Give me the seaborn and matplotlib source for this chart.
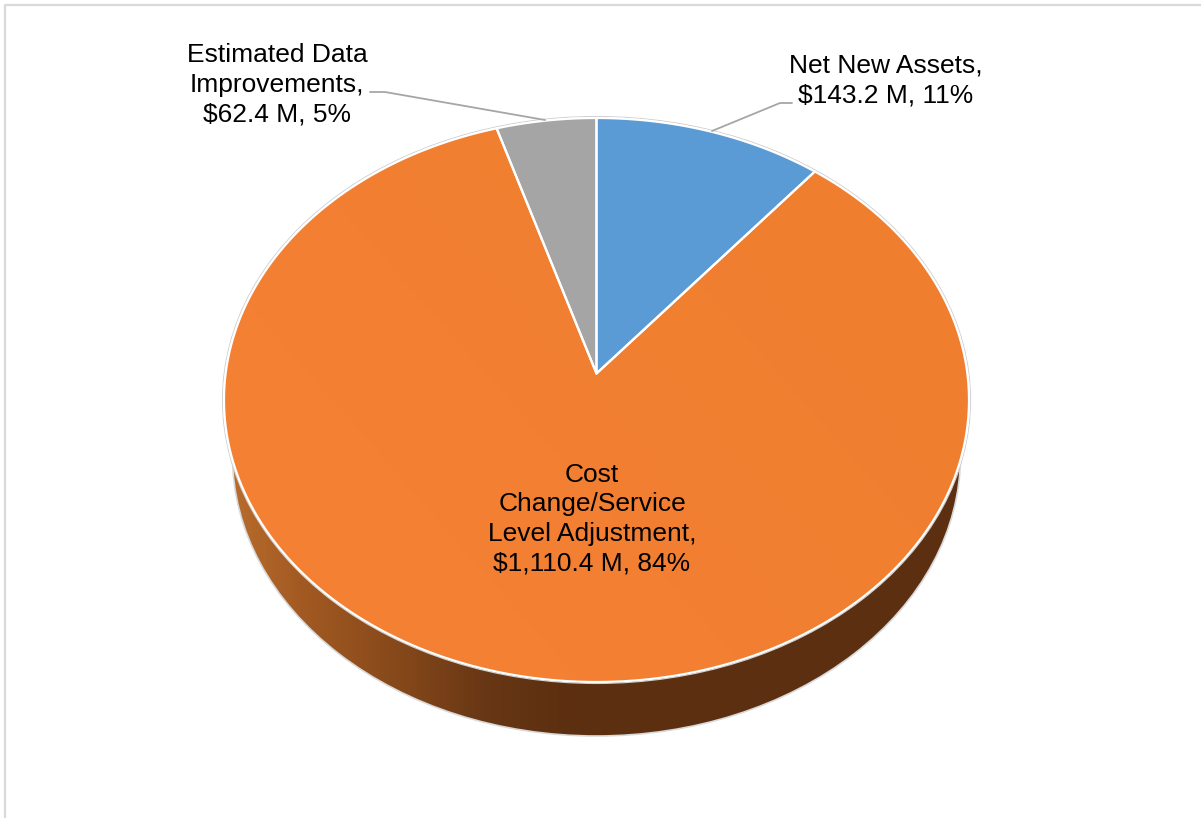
import numpy as np
import matplotlib.pyplot as plt
from matplotlib.colors import LinearSegmentedColormap
from matplotlib.patches import Ellipse, PathPatch
from matplotlib.path import Path
from matplotlib.transforms import Affine2D
import seaborn as sns

sns.set_theme(style="white")
plt.rcParams["font.family"] = ["Liberation Sans", "DejaVu Sans"]

# values in $ M
categories = ["Net New Assets", "Cost Change/Service Level Adjustment", "Estimated Data Improvements"]
values = [143.2, 1110.4, 62.4]
colors = ["#5B9BD5", "#F27F32", "#A5A5A5"]
label_texts = [
    "Net New Assets,\n$143.2 M, 11%",
    "Cost\nChange/Service\nLevel Adjustment,\n$1,110.4 M, 84%",
    "Estimated Data\nImprovements,\n$62.4 M, 5%",
]

# geometry of the tilted disc, in pixels
CX, CY, RX, RY = 596.5, 400, 372.5, 282
TILT = 0.094  # moves the apex up, same as the perspective in the original
side_cmap = LinearSegmentedColormap.from_list(
    "side", [(0, "#B86C2C"), (0.2, "#A35A22"), (0.5, "#85481A"), (0.75, "#683715"), (1, "#5C2F10")]
)
top_cmap = LinearSegmentedColormap.from_list("top", ["#F58135", "#EF7E2E"])


def to_pixels(xy):
    x, y = xy[:, 0], xy[:, 1]
    d = 1 + TILT * y
    px = CX + RX * x * np.sqrt(1 - TILT**2) / d
    py = CY - RY * (y + TILT) / d
    return np.column_stack([px, py])


fig = plt.figure(figsize=(12.01, 8.18), dpi=100)
ax = fig.add_axes([0, 0, 1, 1])
wedges, _ = ax.pie(values, colors=colors, startangle=90, counterclock=False, radius=1)
ax.set_aspect("auto")
ax.axis("off")

# side of the disc
ax.add_patch(Ellipse((CX, 456), 728, 560, fc="#5C2F10", ec="none", zorder=1))
grad = ax.imshow(
    np.linspace(0, 1, 300).reshape(1, -1),
    extent=(232, 570, 740, 440),
    cmap=side_cmap,
    aspect="auto",
    zorder=1.5,
)
grad.set_clip_path(Ellipse((CX, 456), 727, 559, transform=ax.transData))
ax.add_patch(Ellipse((CX, 456), 728, 560, fc="none", ec="#D9D9D9", lw=1.2, zorder=1.6))

# outer thin gray rim behind the top face
ax.add_patch(Ellipse((CX, CY), 2 * RX + 3, 2 * RY + 3, fc="none", ec="#D0D0D0", lw=0.8, zorder=2))

# slices, flattened then put through the perspective
for wedge, color in zip(wedges, colors):
    poly = wedge.get_path().to_polygons(Affine2D().scale(2000))[0] / 2000
    wedge.remove()
    path = Path(to_pixels(poly), closed=True)
    ax.add_patch(PathPatch(path, fc=color, ec="none", zorder=3))
    if color == colors[1]:
        xx, yy = np.meshgrid(np.linspace(0, 1, 200), np.linspace(0, 1, 200))
        shade = ax.imshow(
            xx * 0.6 + (1 - yy) * 0.4,
            extent=(224, 969, 682, 118),
            cmap=top_cmap,
            aspect="auto",
            zorder=3.1,
        )
        shade.set_clip_path(PathPatch(path, transform=ax.transData))
    ax.add_patch(PathPatch(path, fc="none", ec="white", lw=1.6, joinstyle="round", zorder=4))
ax.set_xlim(0, 1201)
ax.set_ylim(818, 0)

# leader lines
ax.plot([712, 780, 792], [131, 103, 103], color="#A6A6A6", lw=1.3, zorder=5)
ax.plot([370, 385, 545], [92, 92, 120], color="#A6A6A6", lw=1.3, zorder=5)

# chart area border, left and top only in this crop
ax.plot([4.5, 4.5, 1201], [818, 5, 5], color="#D9D9D9", lw=1.6, zorder=0, clip_on=False)

label_pos = [(886, 80.5), (592, 519), (277, 85)]
for txt, (x, y) in zip(label_texts, label_pos):
    ax.text(x, y, txt, ha="center", va="center", fontsize=19, color="black", linespacing=1.29, zorder=6)

fig.savefig("out.png", dpi=100)
